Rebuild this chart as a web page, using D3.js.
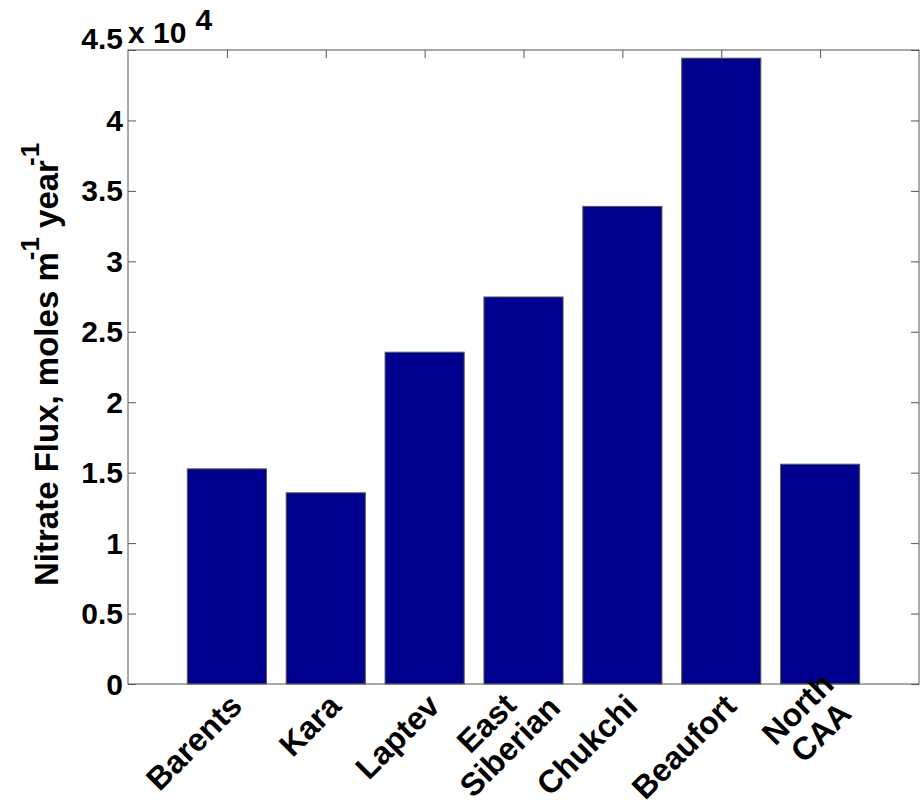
<!DOCTYPE html>
<html>
<head>
<meta charset="utf-8">
<script src="https://cdn.jsdelivr.net/npm/d3@7"></script>
<style>
  html, body { margin: 0; padding: 0; background: #fff; }
  svg text { font-family: Arial, "Liberation Sans", sans-serif; font-weight: bold; fill: #000; }
</style>
</head>
<body>
<svg id="chart" width="920" height="805"></svg>
<script>
// regions along the x axis (multi-line labels split on "\n")
var regions = ["Barents", "Kara", "Laptev", "East\nSiberian", "Chukchi", "Beaufort", "North\nCAA"];
// nitrate flux, moles m^-1 year^-1
var flux = [15270, 13570, 23550, 27470, 33900, 44420, 15600];
// y tick values and their labels (axis is scaled by 10^4)
var yTicks = [0, 5000, 10000, 15000, 20000, 25000, 30000, 35000, 40000, 45000];
var yTickLabels = ["0", "0.5", "1", "1.5", "2", "2.5", "3", "3.5", "4", "4.5"];

(function() {
  var svg = d3.select("#chart");

  var pLeft = 128, pRight = 919, pTop = 50, pBottom = 684;
  var fontSize = 30;
  var labelSize = 32;
  var axisColor = "#555";
  var barColor = "#00008f";

  var x = d3.scaleLinear().domain([0, regions.length + 1]).range([pLeft, pRight]);
  var y = d3.scaleLinear().domain([0, 45000]).range([pBottom, pTop]);

  // bars
  svg.append("g").selectAll("rect")
    .data(flux)
    .enter()
    .append("rect")
    .attr("x", (d, i) => x(i + 1 - 0.4))
    .attr("width", x(0.8) - x(0))
    .attr("y", d => y(d))
    .attr("height", d => y(0) - y(d))
    .attr("fill", barColor)
    .attr("stroke", "#555")
    .attr("stroke-width", 1);

  // axes box with inward ticks
  var tickLen = 8;
  var yLeft = d3.axisRight(y).tickValues(yTicks).tickSize(tickLen).tickFormat("");
  var yRight = d3.axisLeft(y).tickValues(yTicks).tickSize(tickLen).tickFormat("");
  var xTop = d3.axisBottom(x).tickValues(d3.range(1, regions.length + 1)).tickSize(tickLen).tickFormat("");

  svg.append("g").attr("transform", `translate(${pLeft},0)`).call(yLeft);
  svg.append("g").attr("transform", `translate(${pRight},0)`).call(yRight);
  svg.append("g").attr("transform", `translate(0,${pTop})`).call(xTop);
  svg.selectAll(".domain").remove();
  svg.selectAll(".tick line").attr("stroke", axisColor);

  svg.append("rect")
    .attr("x", pLeft).attr("y", pTop)
    .attr("width", pRight - pLeft).attr("height", pBottom - pTop)
    .attr("fill", "none")
    .attr("stroke", axisColor);

  // y tick labels (top one sits a bit higher, next to the exponent)
  svg.append("g").selectAll("text")
    .data(yTicks)
    .enter()
    .append("text")
    .attr("x", pLeft - 5)
    .attr("y", (d, i) => y(d) - (i === yTicks.length - 1 ? 12 : 0))
    .attr("dy", "0.35em")
    .attr("text-anchor", "end")
    .attr("font-size", fontSize)
    .text((d, i) => yTickLabels[i]);

  // exponent
  var expo = svg.append("text")
    .attr("x", pLeft)
    .attr("y", 43)
    .attr("font-size", fontSize);
  expo.append("tspan").text("x 10");
  expo.append("tspan").attr("dx", 9).attr("dy", -13).text("4");

  // rotated x labels, lines centred within their block
  var lineH = 33;
  var xl = svg.append("g").selectAll("g")
    .data(regions)
    .enter()
    .append("g")
    .attr("transform", (d, i) => {
      var multi = d.indexOf("\n") >= 0;
      return `translate(${x(i + 1) + (multi ? 27 : 17)},${pBottom + (multi ? 14 : 24)}) rotate(-45)`;
    });

  xl.each(function(d) {
    var g = d3.select(this);
    var lines = d.split("\n");
    var t = g.append("text").attr("font-size", labelSize).attr("text-anchor", "middle");
    var spans = lines.map((ln, k) =>
      t.append("tspan")
        .attr("x", 0)
        .attr("y", (k - (lines.length - 1) / 2) * lineH)
        .text(ln));
    var maxW = d3.max(spans, s => s.node().getComputedTextLength());
    spans.forEach(s => s.attr("x", -maxW / 2));
  });

  // y axis label
  var yl = svg.append("text")
    .attr("transform", `translate(58,586) rotate(-90)`)
    .attr("font-size", 33);
  yl.append("tspan").text("Nitrate Flux, moles m");
  yl.append("tspan").attr("dx", -8).attr("dy", -19).attr("font-size", 26).text("-1");
  yl.append("tspan").attr("dy", 19).text(" year");
  yl.append("tspan").attr("dx", -6).attr("dy", -19).attr("font-size", 26).text("-1");
})();
</script>
</body>
</html>
